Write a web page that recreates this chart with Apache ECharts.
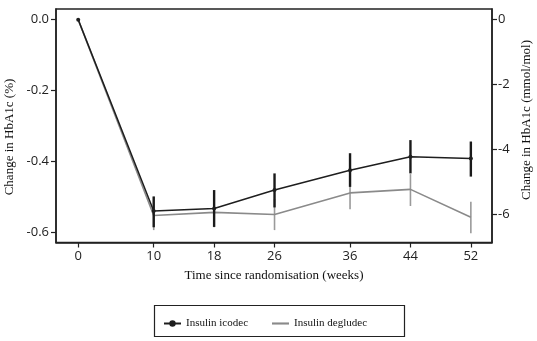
<!DOCTYPE html>
<html>
<head>
<meta charset="utf-8">
<script src="https://cdn.jsdelivr.net/npm/echarts@6/dist/echarts.min.js"></script>
<style>
  html, body { margin: 0; padding: 0; background: #ffffff; }
  #chart { width: 537px; height: 341px; }
</style>
</head>
<body>
<div id="chart"></div>
<script>
// Weeks since randomisation and the tick positions shown on the x axis
const weeks = [0, 10, 18, 26, 36, 44, 52];
const weekTicks = [0, 10, 18, 26, 36, 44, 52];

// Mean change in HbA1c (%) with 95% CI bounds (no interval at baseline)
const icodecMean  = [0, -0.540, -0.533, -0.481, -0.425, -0.387, -0.392];
const icodecLower = [null, -0.586, -0.585, -0.530, -0.472, -0.434, -0.443];
const icodecUpper = [null, -0.499, -0.481, -0.434, -0.377, -0.340, -0.344];

const degludecMean  = [0, -0.553, -0.544, -0.550, -0.489, -0.479, -0.558];
const degludecLower = [null, -0.594, -0.586, -0.594, -0.535, -0.526, -0.603];
const degludecUpper = [null, -0.500, -0.504, -0.506, -0.443, -0.436, -0.514];

// Tick labels for the two y axes
const pctTicks = [0, -0.2, -0.4, -0.6];
const mmolTicks = [0, -2, -4, -6];

// 1 percentage point of HbA1c corresponds to 10.929 mmol/mol
const PCT_TO_MMOL = 10.929;
const pctMin = -0.629, pctMax = 0.030;

const seriesNames = ['Insulin icodec', 'Insulin degludec'];

function toPairs(xs, ys) { return xs.map((x, i) => [x, ys[i]]); }
function toBars(xs, lo, hi) {
  const out = [];
  xs.forEach((x, i) => { if (lo[i] !== null) out.push([x, lo[i], hi[i]]); });
  return out;
}
function errorBarRenderer(color, width) {
  return function (params, api) {
    const a = api.coord([api.value(0), api.value(1)]);
    const b = api.coord([api.value(0), api.value(2)]);
    return {
      type: 'line',
      shape: { x1: a[0], y1: a[1], x2: b[0], y2: b[1] },
      style: { stroke: color, lineWidth: width }
    };
  };
}

const tickFont = { fontFamily: 'Open Sans', fontSize: 13, color: '#222' };
const serif = 'Liberation Serif';

const chart = echarts.init(document.getElementById('chart'), null, { renderer: 'canvas' });
chart.setOption({
  backgroundColor: '#ffffff',
  animation: false,
  grid: {
    left: 56, right: 45, top: 9, bottom: 98.5,
    show: true, borderColor: '#222', borderWidth: 1.5, backgroundColor: 'transparent'
  },
  xAxis: {
    type: 'value', min: -2.94, max: 54.8,
    name: 'Time since randomisation (weeks)',
    nameLocation: 'middle', nameGap: 27,
    nameTextStyle: { fontFamily: serif, fontSize: 13, color: '#111' },
    axisLine: { show: true, onZero: false, lineStyle: { color: '#222', width: 1.5 } },
    axisTick: { show: true, customValues: weekTicks, length: 5, lineStyle: { color: '#222', width: 1.2 } },
    axisLabel: { customValues: weekTicks, margin: 7, ...tickFont },
    splitLine: { show: false }
  },
  yAxis: [
    {
      type: 'value', min: pctMin, max: pctMax, position: 'left',
      axisLine: { show: true, onZero: false, lineStyle: { color: '#222', width: 1.5 } },
      axisTick: { show: true, customValues: pctTicks, length: 5, lineStyle: { color: '#222', width: 1.2 } },
      axisLabel: { customValues: pctTicks, margin: 7, formatter: v => v.toFixed(1), ...tickFont },
      splitLine: { show: false }
    },
    {
      type: 'value', min: pctMin * PCT_TO_MMOL, max: pctMax * PCT_TO_MMOL, position: 'right',
      axisLine: { show: true, onZero: false, lineStyle: { color: '#222', width: 1.5 } },
      axisTick: { show: true, customValues: mmolTicks, length: 5, lineStyle: { color: '#222', width: 1.2 } },
      axisLabel: { customValues: mmolTicks, margin: 6, formatter: v => String(v), ...tickFont },
      splitLine: { show: false }
    }
  ],
  legend: {
    data: [
      { name: seriesNames[0] },
      { name: seriesNames[1], icon: 'path://M0,0L16,0L16,2L0,2Z' }
    ],
    left: 158, top: 313,
    itemWidth: 17, itemHeight: 8, itemGap: 24,
    textStyle: { fontFamily: serif, fontSize: 11, color: '#111' }
  },
  graphic: [
    {
      type: 'rect', left: 152, top: 303, silent: true,
      shape: { width: 250, height: 31 },
      style: { fill: 'none', stroke: '#222', lineWidth: 1.2 }
    },
    {
      type: 'text', x: 10, y: 137, rotation: Math.PI / 2,
      style: { text: 'Change in HbA1c (%)', font: '13px "Liberation Serif"', fill: '#111',
               textAlign: 'center', textVerticalAlign: 'middle' }
    },
    {
      type: 'text', x: 527, y: 120, rotation: Math.PI / 2,
      style: { text: 'Change in HbA1c (mmol/mol)', font: '13px "Liberation Serif"', fill: '#111',
               textAlign: 'center', textVerticalAlign: 'middle' }
    }
  ],
  series: [
    {
      name: 'Insulin degludec', type: 'line', data: toPairs(weeks, degludecMean),
      symbol: 'none', lineStyle: { color: '#8a8a8a', width: 1.6 },
      itemStyle: { color: '#8a8a8a' }, z: 2
    },
    {
      name: 'Insulin degludec', type: 'custom', data: toBars(weeks, degludecLower, degludecUpper),
      renderItem: errorBarRenderer('#9a9a9a', 1.6), z: 2
    },
    {
      name: 'Insulin icodec', type: 'line', data: toPairs(weeks, icodecMean),
      symbol: 'circle', symbolSize: 4, lineStyle: { color: '#1e1e1e', width: 1.5 },
      itemStyle: { color: '#1e1e1e' }, z: 3
    },
    {
      name: 'Insulin icodec', type: 'custom', data: toBars(weeks, icodecLower, icodecUpper),
      renderItem: errorBarRenderer('#1a1a1a', 2.4), z: 3
    }
  ]
});
</script>
</body>
</html>
